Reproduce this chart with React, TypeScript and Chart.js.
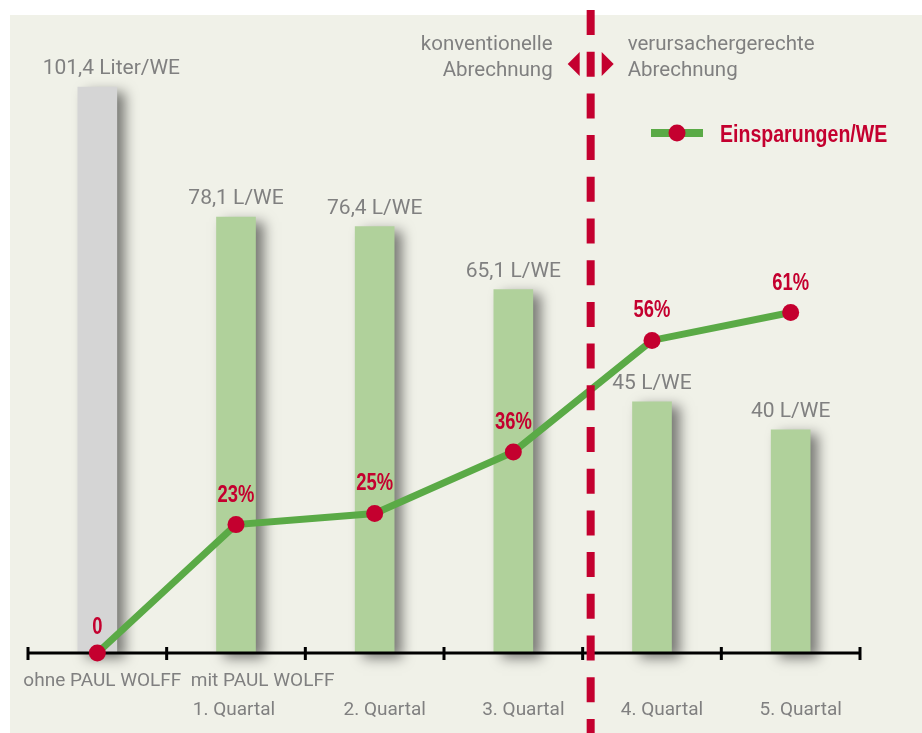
import React, { useEffect, useRef } from "react";
import { Chart, registerables } from "chart.js";

Chart.register(...registerables);

// ---- data ----
const categories = ["ohne PAUL WOLFF", "1. Quartal", "2. Quartal", "3. Quartal", "4. Quartal", "5. Quartal"];
const tickLine1 = ["ohne PAUL WOLFF", "mit PAUL WOLFF", "", "", "", ""];
const tickLine2 = ["", "1. Quartal", "2. Quartal", "3. Quartal", "4. Quartal", "5. Quartal"];
const consumption = [101.4, 78.1, 76.4, 65.1, 45, 40];
const consumptionLabels = ["101,4 Liter/WE", "78,1 L/WE", "76,4 L/WE", "65,1 L/WE", "45 L/WE", "40 L/WE"];
const savings = [0, 23, 25, 36, 56, 61];
const savingsLabels = ["0", "23%", "25%", "36%", "56%", "61%"];
const legendLabel = "Einsparungen/WE";
const leftNote = ["konventionelle", "Abrechnung"];
const rightNote = ["verursachergerechte", "Abrechnung"];
const dividerAfterIndex = 3;

// ---- styles ----
const PANEL = "#f0f1e8";
const RED = "#c4002f";
const GREEN_LINE = "#5aaa46";
const GREEN_BAR = "#b0d19b";
const GRAY_BAR = "#d5d5d5";
const TEXT_GRAY = "#808080";
const FONT_LIGHT = "Roboto, 'DejaVu Sans', sans-serif";
const FONT_BOLD = "'Liberation Sans', Arial, sans-serif";

const barColors = consumption.map((_, i) => (i === 0 ? GRAY_BAR : GREEN_BAR));

function narrowText(ctx: CanvasRenderingContext2D, text: string, x: number, y: number, align: CanvasTextAlign, sx: number) {
  ctx.save();
  ctx.translate(x, y);
  ctx.scale(sx, 1);
  ctx.textAlign = align;
  ctx.fillText(text, 0, 0);
  ctx.restore();
}

const decorPlugin = {
  id: "decor",
  beforeDraw(chart: any) {
    const ctx = chart.ctx;
    ctx.save();
    ctx.fillStyle = "#ffffff";
    ctx.fillRect(0, 0, chart.width, chart.height);
    ctx.fillStyle = PANEL;
    ctx.fillRect(10, 15, chart.width - 10, chart.height - 15);
    ctx.restore();
  },
  beforeDatasetDraw(chart: any, args: any) {
    if (args.index !== 0) return;
    const ctx = chart.ctx;
    ctx.save();
    ctx.shadowColor = "rgba(0,0,0,0.5)";
    ctx.shadowBlur = 12;
    ctx.shadowOffsetX = 8;
    ctx.shadowOffsetY = 5;
  },
  afterDatasetDraw(chart: any, args: any) {
    if (args.index !== 0) return;
    const ctx = chart.ctx;
    ctx.restore();
    // axis line + ticks
    const xs = chart.scales.x;
    const ys = chart.scales.y;
    const y0 = ys.getPixelForValue(0);
    const step = xs.getPixelForValue(1) - xs.getPixelForValue(0);
    const start = xs.getPixelForValue(0) - step / 2;
    const n = categories.length;
    ctx.save();
    ctx.strokeStyle = "#000";
    ctx.lineWidth = 3;
    ctx.beginPath();
    ctx.moveTo(start, y0);
    ctx.lineTo(start + n * step, y0);
    for (let i = 0; i <= n; i++) {
      const bx = start + i * step;
      ctx.moveTo(bx, y0 - 6);
      ctx.lineTo(bx, y0 + 7);
    }
    ctx.stroke();
    // x labels
    ctx.fillStyle = TEXT_GRAY;
    ctx.font = `19px ${FONT_LIGHT}`;
    ctx.textBaseline = "alphabetic";
    for (let i = 0; i < n; i++) {
      const cx = xs.getPixelForValue(i);
      const l2 = tickLine2[i];
      const l1 = tickLine1[i];
      const shift = i === 1 ? -2 : 10;
      let l2Left = cx + shift;
      if (l2) {
        const w2 = ctx.measureText(l2).width;
        l2Left = cx + shift - w2 / 2;
        ctx.textAlign = "left";
        ctx.fillText(l2, l2Left, y0 + 62);
      }
      if (l1) {
        if (l2) {
          ctx.textAlign = "left";
          ctx.fillText(l1, l2Left - 2, y0 + 33);
        } else {
          ctx.textAlign = "center";
          ctx.fillText(l1, cx + 5, y0 + 33);
        }
      }
    }
    ctx.restore();
  },
  afterDraw(chart: any) {
    const ctx = chart.ctx;
    const xs = chart.scales.x;
    const barMeta = chart.getDatasetMeta(0);
    const lineMeta = chart.getDatasetMeta(1);
    ctx.save();
    ctx.textBaseline = "alphabetic";
    // bar value labels
    ctx.fillStyle = TEXT_GRAY;
    ctx.font = `21px ${FONT_LIGHT}`;
    ctx.textAlign = "center";
    barMeta.data.forEach((bar: any, i: number) => {
      const nudge = i === 0 ? 14 : 0;
      ctx.fillText(consumptionLabels[i], xs.getPixelForValue(i) + nudge, bar.y - 13);
    });
    // percentage labels
    ctx.fillStyle = RED;
    ctx.font = `bold 23px ${FONT_BOLD}`;
    lineMeta.data.forEach((pt: any, i: number) => {
      narrowText(ctx, savingsLabels[i], pt.x, pt.y - (i === 0 ? 19 : 23), "center", 0.8);
    });
    // dashed divider
    const dx = (xs.getPixelForValue(dividerAfterIndex) + xs.getPixelForValue(dividerAfterIndex + 1)) / 2 + 8;
    ctx.strokeStyle = RED;
    ctx.lineWidth = 8;
    ctx.setLineDash([25, 16.7]);
    ctx.beginPath();
    ctx.moveTo(dx, 10);
    ctx.lineTo(dx, chart.height);
    ctx.stroke();
    ctx.setLineDash([]);
    // arrows
    ctx.fillStyle = RED;
    ctx.beginPath();
    ctx.moveTo(dx - 23, 64);
    ctx.lineTo(dx - 11, 52);
    ctx.lineTo(dx - 11, 76);
    ctx.closePath();
    ctx.fill();
    ctx.beginPath();
    ctx.moveTo(dx + 23, 64);
    ctx.lineTo(dx + 11, 52);
    ctx.lineTo(dx + 11, 76);
    ctx.closePath();
    ctx.fill();
    // notes
    ctx.fillStyle = TEXT_GRAY;
    ctx.font = `20.5px ${FONT_LIGHT}`;
    ctx.textAlign = "right";
    ctx.fillText(leftNote[0], dx - 38, 50);
    ctx.fillText(leftNote[1], dx - 38, 76);
    ctx.textAlign = "left";
    ctx.fillText(rightNote[0], dx + 37, 50);
    ctx.fillText(rightNote[1], dx + 37, 76);
    // legend
    ctx.strokeStyle = GREEN_LINE;
    ctx.lineWidth = 8;
    ctx.beginPath();
    ctx.moveTo(651, 133);
    ctx.lineTo(703, 133);
    ctx.stroke();
    ctx.fillStyle = RED;
    ctx.beginPath();
    ctx.arc(677, 133, 8.5, 0, Math.PI * 2);
    ctx.fill();
    ctx.font = `bold 23px ${FONT_BOLD}`;
    narrowText(ctx, legendLabel, 720, 142, "left", 0.85);
    ctx.restore();
  },
};

export default function App() {
  const canvasRef = useRef<HTMLCanvasElement | null>(null);

  useEffect(() => {
    const canvas = canvasRef.current;
    if (!canvas) return;
    const chart = new Chart(canvas, {
      type: "bar",
      data: {
        labels: categories,
        datasets: [
          {
            type: "bar",
            label: "Verbrauch",
            data: consumption,
            backgroundColor: barColors,
            borderWidth: 0,
            barThickness: 39,
            order: 2,
            clip: false as any,
          },
          {
            type: "line",
            label: legendLabel,
            data: savings,
            borderColor: GREEN_LINE,
            borderWidth: 7,
            pointRadius: 8.5,
            pointBackgroundColor: RED,
            pointBorderWidth: 0,
            tension: 0,
            order: 1,
            clip: false as any,
          },
        ],
      },
      options: {
        animation: false,
        responsive: false,
        maintainAspectRatio: false,
        layout: { padding: { left: 28, right: 62, top: 39, bottom: 80 } },
        plugins: { legend: { display: false }, tooltip: { enabled: false } },
        events: [],
        scales: {
          x: { display: false, offset: true },
          y: { display: false, min: 0, max: 110 },
        },
      },
      plugins: [decorPlugin],
    });
    return () => chart.destroy();
  }, []);

  return (
    <div style={{ position: "fixed", left: 0, top: 0, width: 922, height: 733 }}>
      <canvas ref={canvasRef} width={922} height={733} style={{ display: "block", width: 922, height: 733 }} />
    </div>
  );
}
